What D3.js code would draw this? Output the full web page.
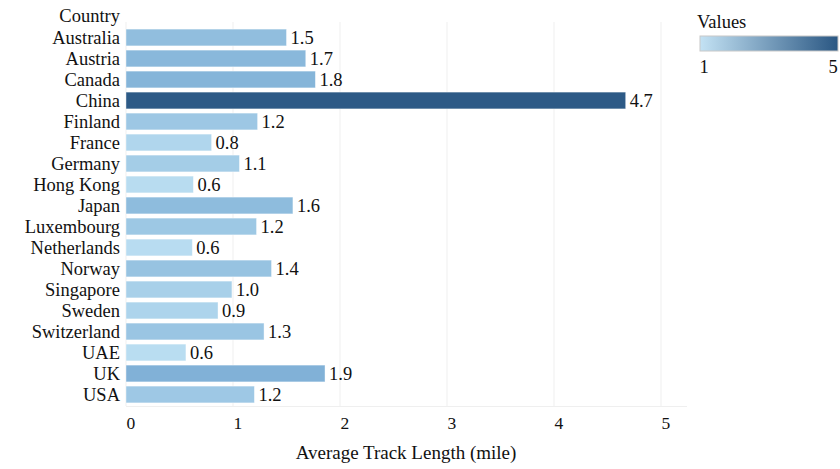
<!DOCTYPE html>
<html><head><meta charset="utf-8">
<script src="https://cdn.jsdelivr.net/npm/d3@7"></script>
<style>body{margin:0;background:#fff} svg text{font-family:'Liberation Serif','Tinos','DejaVu Serif','Noto Serif','Times New Roman',serif;}</style>
</head><body>
<svg id="c" width="840" height="469"></svg>
<script>
const countries = ["Australia","Austria","Canada","China","Finland","France","Germany","Hong Kong","Japan","Luxembourg","Netherlands","Norway","Singapore","Sweden","Switzerland","UAE","UK","USA"];
const values = [1.5,1.68,1.77,4.67,1.23,0.8,1.06,0.63,1.56,1.22,0.62,1.36,0.99,0.86,1.29,0.56,1.86,1.2];
const xTicks = [0,1,2,3,4,5];
const legendTicks = [1,5];

const svg = d3.select("#c");
const x = d3.scaleLinear().domain([0,5]).range([126,661]);
const y = d3.scaleBand().domain(countries).range([27,405]).paddingInner(0.2).paddingOuter(0.1);
const color = d3.scaleLinear().domain([0.6,1.9,4.7]).range(["#b9ddf1","#7fb0d6","#2c5985"]).interpolate(d3.interpolateRgb).clamp(true);

// gridlines
svg.append("g").selectAll("line").data(xTicks).join("line")
  .attr("x1",d=>x(d)).attr("x2",d=>x(d)).attr("y1",22).attr("y2",406)
  .attr("stroke","#efefef").attr("stroke-width",1);
svg.append("line").attr("x1",126).attr("x2",687).attr("y1",406.5).attr("y2",406.5).attr("stroke","#efefef");

// bars
svg.append("g").selectAll("rect").data(countries).join("rect")
  .attr("x",x(0)).attr("y",d=>y(d)).attr("height",y.bandwidth())
  .attr("width",(d,i)=>x(values[i])-x(0))
  .attr("fill",(d,i)=>color(values[i]))
  .attr("stroke","#ffffff").attr("stroke-opacity",0.5).attr("stroke-width",0.8);

// value labels
svg.append("g").selectAll("text").data(countries).join("text")
  .attr("x",(d,i)=>x(values[i])+4).attr("y",d=>y(d)+y.bandwidth()/2)
  .attr("dy","0.36em").attr("font-size",18.5).attr("fill","#111")
  .text((d,i)=>values[i].toFixed(1));

// category labels
svg.append("g").selectAll("text").data(countries).join("text")
  .attr("x",120).attr("y",d=>y(d)+y.bandwidth()/2).attr("dy","0.36em")
  .attr("text-anchor","end").attr("font-size",18.5).attr("fill","#111")
  .text(d=>d);
svg.append("text").attr("x",120).attr("y",15).attr("dy","0.36em").attr("text-anchor","end")
  .attr("font-size",18.5).attr("fill","#111").text("Country");

// x axis
const ax = svg.append("g").attr("transform","translate(0,406)")
  .call(d3.axisBottom(x).tickValues(xTicks).tickSize(0).tickPadding(11).tickFormat(d3.format("d")));
ax.select(".domain").remove();
ax.attr("font-family",null);
ax.selectAll("text").attr("font-size",17.5).attr("fill","#111").attr("dx","0.25em");
svg.append("text").attr("x",406).attr("y",459).attr("text-anchor","middle")
  .attr("font-size",19).attr("fill","#111").text("Average Track Length (mile)");

// legend
const defs = svg.append("defs");
const grad = defs.append("linearGradient").attr("id","lg");
grad.append("stop").attr("offset","0%").attr("stop-color","#c3e2f4");
grad.append("stop").attr("offset","100%").attr("stop-color","#2a5783");
svg.append("text").attr("x",697).attr("y",21).attr("dy","0.36em")
  .attr("font-size",18.5).attr("fill","#111").text("Values");
svg.append("rect").attr("x",700).attr("y",36).attr("width",138).attr("height",15)
  .attr("fill","url(#lg)").attr("stroke","#c8c8c8").attr("stroke-width",1);
const lx = d3.scaleLinear().domain([1,5]).range([704,833]);
svg.append("g").selectAll("text").data(legendTicks).join("text")
  .attr("x",d=>lx(d)).attr("y",66).attr("dy","0.36em").attr("text-anchor","middle")
  .attr("font-size",18.5).attr("fill","#111").text(d=>d);
</script>
</body></html>
